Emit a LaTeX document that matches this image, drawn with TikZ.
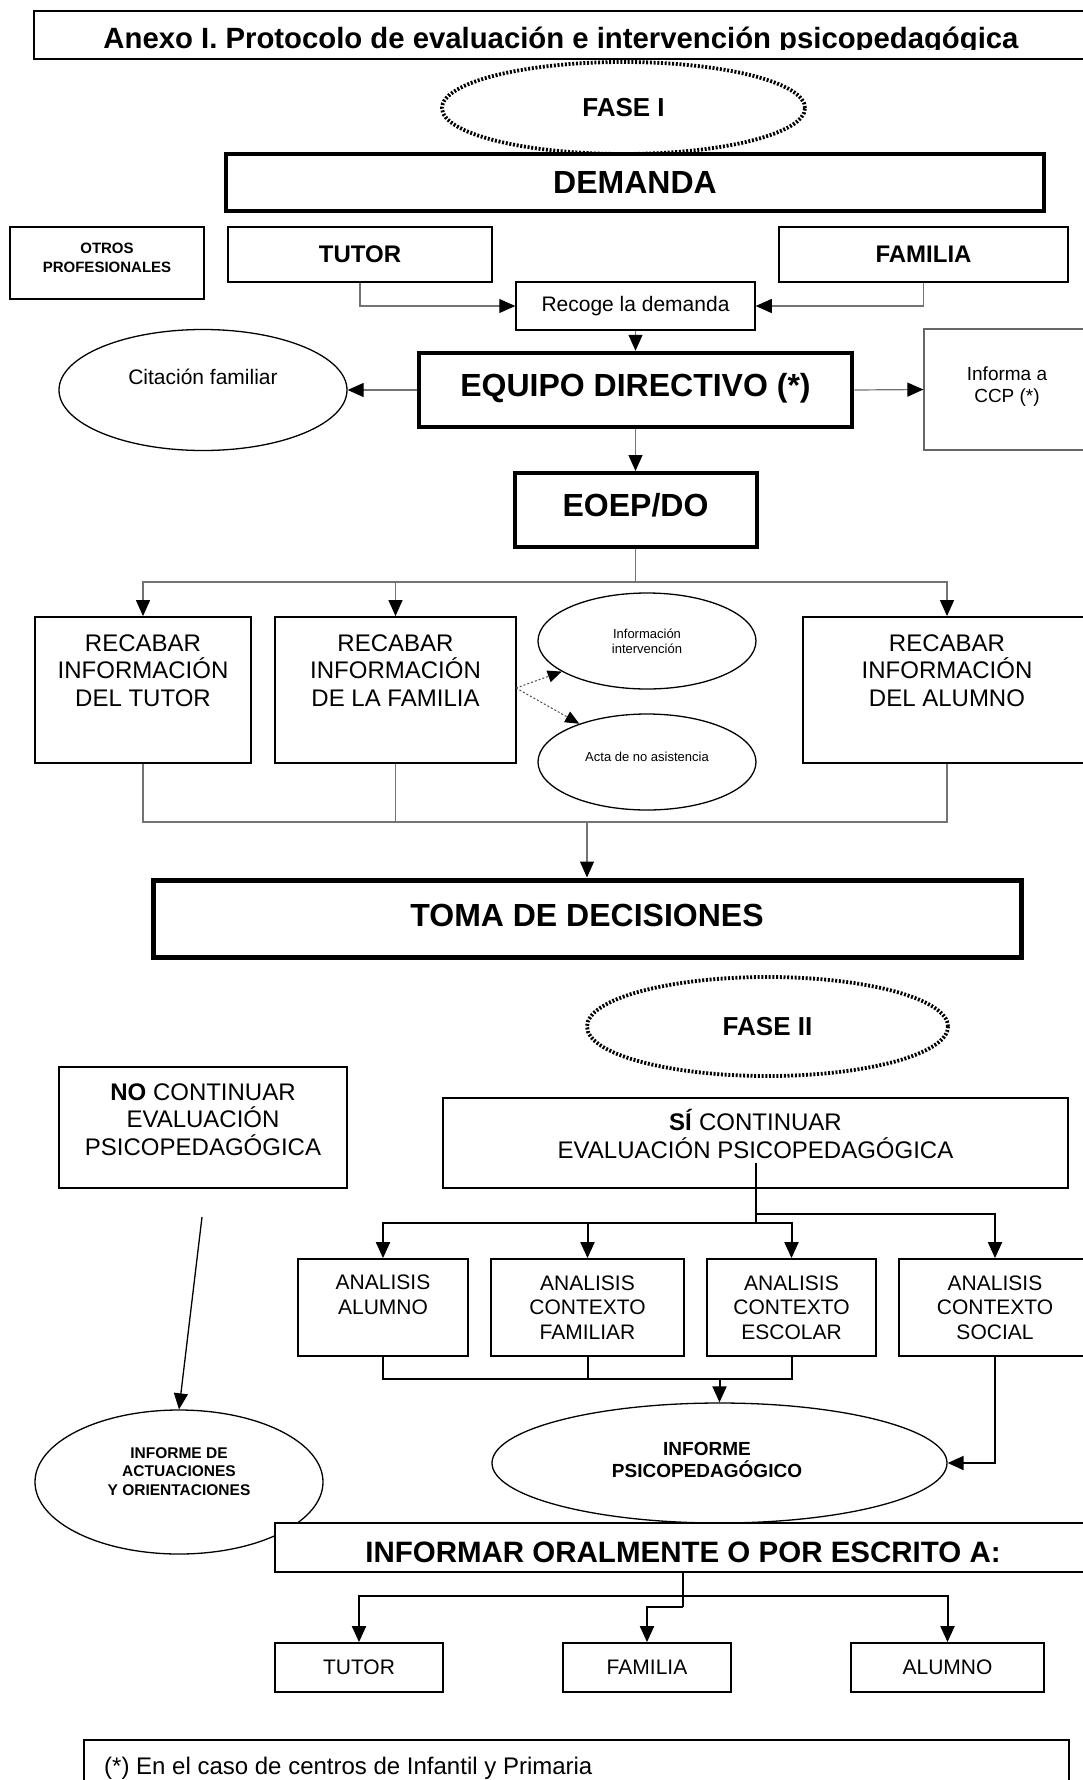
\documentclass[tikz,border=0pt]{standalone}
\usepackage{fontspec}
\setmainfont{Liberation Sans}
\usetikzlibrary{shapes.geometric,arrows.meta}
\newcommand\fsz[2]{\fontsize{#1}{#2}\selectfont}
\begin{document}
\begin{tikzpicture}[x=1pt,y=-1pt,
  box/.style={draw,line width=1.8pt,inner sep=0pt,fill=white},
  thickbox/.style={draw,line width=4.5pt,inner sep=0pt,fill=white},
  ell/.style={draw,ellipse,line width=1.3pt,inner sep=0pt},
  dotell/.style={draw,ellipse,line width=3.8pt,dash pattern=on 2pt off 1.7pt,inner sep=0pt},
  txt/.style={align=center,inner sep=0pt},
  conn/.style={draw=black!55,line width=1.2pt},
  bconn/.style={draw=black,line width=2pt},
  arr/.style={-{Triangle[length=16pt,width=14pt,color=black]}},
  sarr/.style={-{Triangle[length=14pt,width=12pt,color=black]}},
]
\useasboundingbox (0,0) rectangle (1083,1780);

% title
\node[draw,line width=1.6pt,minimum width=1065,minimum height=48.3,inner sep=0pt] (title) at (566.5,34.85) {};
\begin{scope}
  \clip (36,13) rectangle (1083,49.6);
  \node[anchor=base,inner sep=0pt,font=\bfseries\fsz{29.3}{33}] (titlet) at (561,48.5) {Anexo I. Protocolo de evaluación e intervención psicopedagógica};
\end{scope}

% FASE I
\node[dotell,minimum width=363,minimum height=92,font=\bfseries\fsz{26}{30}] (f1) at (623.5,108) {FASE I};

% DEMANDA
\node[thickbox,line width=4pt,minimum width=818,minimum height=57,font=\bfseries\fsz{32}{36}] (dem) at (635,182.5) {DEMANDA};

% OTROS PROFESIONALES
\node[box,minimum width=194,minimum height=72] (otros) at (107,263) {};
\node[txt,font=\bfseries\fsz{15}{19}] (otrost) at (107,257.5) {OTROS\\PROFESIONALES};

% TUTOR / FAMILIA
\node[box,minimum width=264,minimum height=55,font=\bfseries\fsz{24}{28}] (tutor) at (360,254.5) {TUTOR};
\node[box,minimum width=289,minimum height=55,font=\bfseries\fsz{24}{28}] (fam) at (923.5,254.5) {FAMILIA};

% Recoge la demanda
\node[box,line width=1.5pt,minimum width=239,minimum height=48,font=\fsz{21}{25}] (rec) at (635.5,306) {Recoge la demanda};
\draw[conn,arr] (tutor.south) |- (rec.west);
\draw[conn,arr] (fam.south) |- (rec.east);

% EQUIPO DIRECTIVO
\node[thickbox,minimum width=433,minimum height=74] (eq) at (635.5,390) {};
\node[txt,font=\bfseries\fsz{32}{36}] (eqt) at (635.5,388) {EQUIPO DIRECTIVO (*)};
\draw[conn,arr] (rec.south) -- (eq.north);

% Citacion familiar
\node[ell,minimum width=288,minimum height=121] (cit) at (203,390) {};
\node[txt,font=\fsz{21}{25}] (citt) at (203,377) {Citación familiar};
\draw[conn,arr] (eq.west) -- (cit.east);

% Informa a CCP
\node[draw=black!60,line width=1.3pt,minimum width=166,minimum height=121,inner sep=0pt] (ccp) at (1007,389.5) {};
\node[txt,font=\fsz{19}{22}] (ccpt) at (1007,387) {Informa a\\CCP (*)};
\draw[conn,arr] (eq.east) -- (ccp.west);

% EOEP/DO
\node[thickbox,line width=4pt,minimum width=242,minimum height=74] (eoep) at (635.5,510) {};
\node[txt,font=\bfseries\fsz{32}{36}] (eoept) at (635.5,505) {EOEP/DO};
\draw[conn,arr] (eq.south) -- (eoep.north);

% RECABAR boxes
\node[box,minimum width=216,minimum height=146] (rt) at (143,690) {};
\node[box,minimum width=241,minimum height=146] (rf) at (395.5,690) {};
\node[box,minimum width=288,minimum height=146] (ra) at (947,690) {};
\node[txt,font=\fsz{24}{27.5}] (rtt) at (143,670.5) {RECABAR\\INFORMACIÓN\\DEL TUTOR};
\node[txt,font=\fsz{24}{27.5}] (rft) at (395.5,670.5) {RECABAR\\INFORMACIÓN\\DE LA FAMILIA};
\node[txt,font=\fsz{24}{27.5}] (rat) at (947,670.5) {RECABAR\\INFORMACIÓN\\DEL ALUMNO};

\coordinate (bar1) at (635.5,582);
\draw[conn] (eoep.south) -- (bar1);
\draw[conn,arr] (bar1) -| (rt.north);
\draw[conn,arr] (bar1) -| (rf.north);
\draw[conn,arr] (bar1) -| (ra.north);

% small ellipses
\node[ell,minimum width=218,minimum height=96,align=center,font=\fsz{13}{15}] (info) at (647,641) {Información\\intervención};
\node[ell,minimum width=218,minimum height=96] (acta) at (647,762) {};
\node[txt,font=\fsz{13}{15}] (actat) at (647,757) {Acta de no asistencia};
\coordinate (fd) at (516,688);
\draw[draw=black!70,line width=1pt,dash pattern=on 2pt off 2pt,sarr] (fd) -- (info);
\draw[draw=black!70,line width=1pt,dash pattern=on 2pt off 2pt,sarr] (fd) -- (acta);

% join to TOMA
\coordinate (bar2) at (587,822);
\draw[conn] (rt.south) |- (bar2) -| (ra.south);
\draw[conn] (rf.south) -- (rf.south |- bar2);

% TOMA DE DECISIONES
\node[thickbox,line width=5pt,minimum width=868,minimum height=77] (toma) at (587,918.5) {};
\node[txt,font=\bfseries\fsz{32}{36}] (tomat) at (587,915) {TOMA DE DECISIONES};
\draw[conn,arr] (bar2) -- (toma.north);

% FASE II
\node[dotell,minimum width=361,minimum height=99,font=\bfseries\fsz{26}{30}] (f2) at (767.5,1026.5) {FASE II};

% NO continuar
\node[box,minimum width=288,minimum height=121] (no) at (203,1127.5) {};
\node[txt,font=\fsz{24}{27.5}] (not) at (203,1119.5) {\textbf{NO} CONTINUAR\\EVALUACIÓN\\PSICOPEDAGÓGICA};

% SI continuar
\node[box,minimum width=625,minimum height=90] (si) at (755.5,1143) {};
\node[txt,font=\fsz{24}{28}] (sit) at (755.5,1134) {\textbf{SÍ} CONTINUAR\\EVALUACIÓN PSICOPEDAGÓGICA};

% ANALISIS boxes
\node[box,minimum width=170,minimum height=97] (aa) at (383,1307.5) {};
\node[box,minimum width=193,minimum height=97] (af) at (587.5,1307.5) {};
\node[box,minimum width=169,minimum height=97] (ae) at (791.5,1307.5) {};
\node[box,minimum width=192,minimum height=97] (as) at (995,1307.5) {};
\node[txt,font=\fsz{21}{24.5}] (aat) at (383,1295) {ANALISIS\\ALUMNO};
\node[txt,font=\fsz{21}{24.5}] (aft) at (587.5,1307.5) {ANALISIS\\CONTEXTO\\FAMILIAR};
\node[txt,font=\fsz{21}{24.5}] (aet) at (791.5,1307.5) {ANALISIS\\CONTEXTO\\ESCOLAR};
\node[txt,font=\fsz{21}{24.5}] (ast) at (995,1307.5) {ANALISIS\\CONTEXTO\\SOCIAL};

\coordinate (sitop) at (755.5,1163);
\coordinate (sib) at (755.5,1223);
\coordinate (siu) at (755.5,1214);
\draw[bconn] (sitop) -- (sib);
\draw[bconn,arr] (siu) -| (as.north);
\draw[bconn,arr] (sib) -| (aa.north);
\draw[bconn,arr] (sib) -| (ae.north);
\draw[bconn,arr] (af.north |- sib) -- (af.north);

% INFORME PSICOPEDAGOGICO
\node[ell,minimum width=455,minimum height=120] (ip) at (719.5,1463) {};
\node[txt,font=\bfseries\fsz{19}{22}] (ipt) at (707,1460) {INFORME\\PSICOPEDAGÓGICO};
\coordinate (bar3) at (719.5,1379);
\draw[bconn] (aa.south) |- (bar3) -| (ae.south);
\draw[bconn] (af.south) -- (af.south |- bar3);
\draw[bconn,arr] (bar3) -- (ip.north);
\draw[bconn,arr] (as.south) |- (ip.east);

% INFORME DE ACTUACIONES
\node[ell,minimum width=288,minimum height=144] (ia) at (179,1482) {};
\node[txt,font=\bfseries\fsz{15.5}{18.5}] (iat) at (179,1471.5) {INFORME DE\\ACTUACIONES\\Y ORIENTACIONES};
\coordinate (nost) at (202,1217);
\draw[draw=black,line width=1.3pt,arr] (nost) -- (ia.north);

% INFORMAR
\node[box,minimum width=816,minimum height=49] (inf) at (683,1547.5) {};
\node[txt,font=\bfseries\fsz{29.5}{33}] (inft) at (683,1552) {INFORMAR ORALMENTE O POR ESCRITO A:};

% bottom boxes
\node[box,minimum width=168,minimum height=49,font=\fsz{21}{25}] (bt) at (359,1667.5) {TUTOR};
\node[box,minimum width=168,minimum height=49,font=\fsz{21}{25}] (bf) at (647,1667.5) {FAMILIA};
\node[box,minimum width=193,minimum height=49,font=\fsz{21}{25}] (ba) at (947.5,1667.5) {ALUMNO};
\coordinate (bar4) at (683,1596);
\coordinate (mid) at (683,1607);
\draw[bconn] (inf.south) -- (mid);
\draw[bconn,arr] (bar4) -| (bt.north);
\draw[bconn,arr] (bar4) -| (ba.north);
\draw[bconn,arr] (mid) -| (bf.north);

% footnote
\node[box,minimum width=985,minimum height=60,anchor=north west] (fn) at (83,1739) {};
\node[anchor=west,inner sep=0pt,font=\fsz{24}{28}] (fnt) at (104,1768) {(*) En el caso de centros de Infantil y Primaria};
\end{tikzpicture}
\end{document}
